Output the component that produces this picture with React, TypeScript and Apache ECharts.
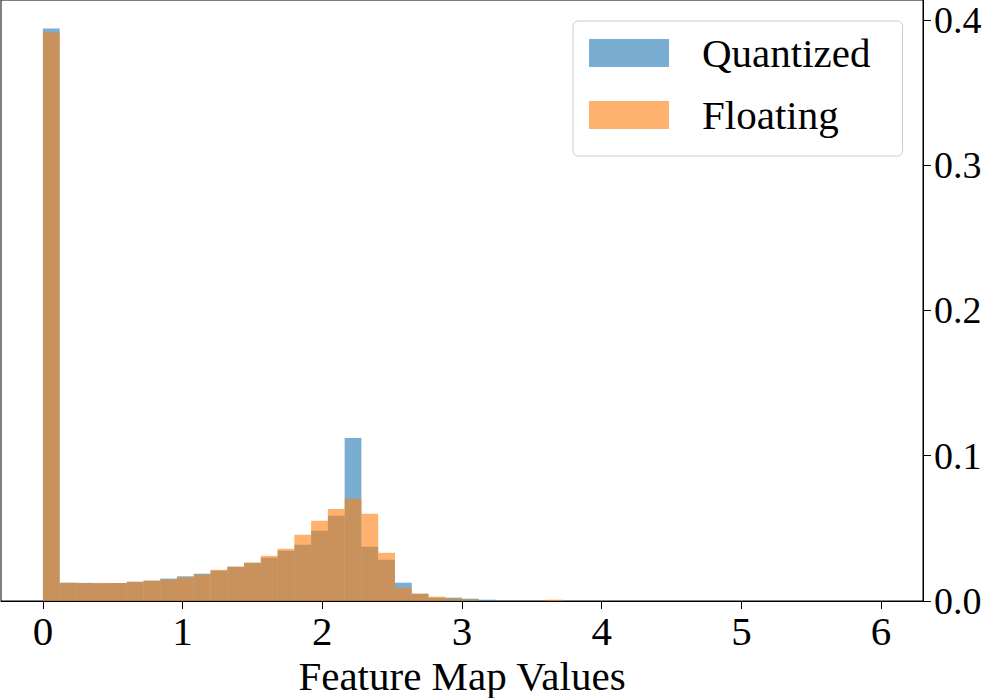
import React, { useEffect, useRef } from "react";
import * as echarts from "echarts";

// Histogram bin definition (50 equal bins over [0, 6])
const BIN_MIN = 0;
const BIN_MAX = 6;
const BIN_COUNT = 50;

// Relative frequency per bin
const quantized = [
  0.394, 0.0126, 0.0125, 0.0122, 0.0124, 0.0133, 0.014, 0.0154, 0.017, 0.0188,
  0.0209, 0.0236, 0.0263, 0.0298, 0.0346, 0.0387, 0.0483, 0.0586, 0.1122, 0.0373,
  0.0284, 0.0126, 0.005, 0.0023, 0.0023, 0.0016, 0.0009, 0, 0, 0,
  0, 0, 0, 0, 0, 0, 0, 0, 0, 0,
  0, 0, 0, 0, 0, 0, 0, 0, 0, 0,
];
const floating = [
  0.3913, 0.0126, 0.0122, 0.0125, 0.0124, 0.0133, 0.014, 0.0147, 0.0163, 0.0181,
  0.0215, 0.0236, 0.0263, 0.0311, 0.0359, 0.0456, 0.0552, 0.0634, 0.0703, 0.06,
  0.0332, 0.0091, 0.005, 0.003, 0.0016, 0.0009, 0.0002, 0, 0, 0,
  0.0009, 0, 0, 0, 0, 0, 0, 0, 0, 0,
  0, 0, 0, 0, 0, 0, 0, 0, 0, 0,
];

const seriesNames = ["Quantized", "Floating"];
const xTicks = [0, 1, 2, 3, 4, 5, 6];
const yTicks = [0, 0.1, 0.2, 0.3, 0.4];
const xLabel = "Feature Map Values";

const FONT = "'Liberation Serif', 'DejaVu Serif', serif";
const COLORS = ["rgba(31,119,180,0.6)", "rgba(255,127,14,0.6)"];

function toBins(values: number[]) {
  const w = (BIN_MAX - BIN_MIN) / BIN_COUNT;
  const out: number[][] = [];
  values.forEach((v, i) => {
    if (v > 0) out.push([BIN_MIN + i * w, BIN_MIN + (i + 1) * w, v]);
  });
  return out;
}

export default function App() {
  const ref = useRef<HTMLDivElement>(null);
  useEffect(() => {
    document.body.style.margin = "0";
    const chart = echarts.init(ref.current!, null, { renderer: "svg" });
    const maxVal = Math.max(...quantized, ...floating);
    const span = BIN_MAX - BIN_MIN;
    const makeSeries = (name: string, vals: number[], color: string) => ({
      type: "custom",
      name,
      data: toBins(vals),
      encode: { x: [0, 1], y: 2 },
      itemStyle: { color },
      renderItem: (params: any, api: any) => {
        const p0 = api.coord([api.value(0), api.value(2)]);
        const p1 = api.coord([api.value(1), 0]);
        return {
          type: "rect",
          shape: { x: p0[0], y: p0[1], width: p1[0] - p0[0], height: p1[1] - p0[1] },
          style: { fill: color },
        };
      },
    });
    chart.setOption({
      animation: false,
      backgroundColor: "#ffffff",
      grid: {
        left: 1,
        top: 0,
        right: 63,
        bottom: 97,
        outerBoundsMode: "none",
        containLabel: false,
        show: true,
        borderColor: "#000",
        borderWidth: 1,
        backgroundColor: "transparent",
      },
      legend: {
        data: seriesNames,
        orient: "vertical",
        left: 573,
        top: 21,
        icon: "rect",
        itemWidth: 80,
        itemHeight: 28,
        itemGap: 14,
        padding: [8, 32, 17, 16],
        borderColor: "#cccccc",
        borderWidth: 1,
        borderRadius: 5,
        backgroundColor: "rgba(255,255,255,0.8)",
        textStyle: {
          fontFamily: FONT,
          fontSize: 41,
          color: "#000",
          lineHeight: 48,
          padding: [0, 0, 0, 28],
        },
      },
      xAxis: {
        type: "value",
        min: BIN_MIN - span * 0.05,
        max: BIN_MAX + span * 0.05,
        name: xLabel,
        nameLocation: "middle",
        nameGap: 50,
        nameTextStyle: { fontFamily: FONT, fontSize: 41, color: "#000", lineHeight: 40 },
        axisLine: { show: true, onZero: false, lineStyle: { color: "#000", width: 1 } },
        axisTick: { show: true, length: 8, lineStyle: { color: "#000" }, customValues: xTicks },
        axisLabel: {
          fontFamily: FONT,
          fontSize: 41,
          color: "#000",
          margin: 9,
          customValues: xTicks,
          formatter: (v: number) => String(v),
        },
        splitLine: { show: false },
      },
      yAxis: {
        type: "value",
        position: "right",
        min: 0,
        max: maxVal * 1.05,
        axisLine: { show: true, onZero: false, lineStyle: { color: "#000", width: 1 } },
        axisTick: { show: true, length: 8, lineStyle: { color: "#000" }, customValues: yTicks },
        axisLabel: {
          fontFamily: FONT,
          fontSize: 38,
          lineHeight: 34,
          color: "#000",
          margin: 11,
          customValues: yTicks,
          formatter: (v: number) => v.toFixed(1),
        },
        splitLine: { show: false },
      },
      series: [
        makeSeries(seriesNames[0], quantized, COLORS[0]),
        makeSeries(seriesNames[1], floating, COLORS[1]),
      ],
    });
    return () => chart.dispose();
  }, []);
  return <div ref={ref} style={{ width: 986, height: 698 }} />;
}
